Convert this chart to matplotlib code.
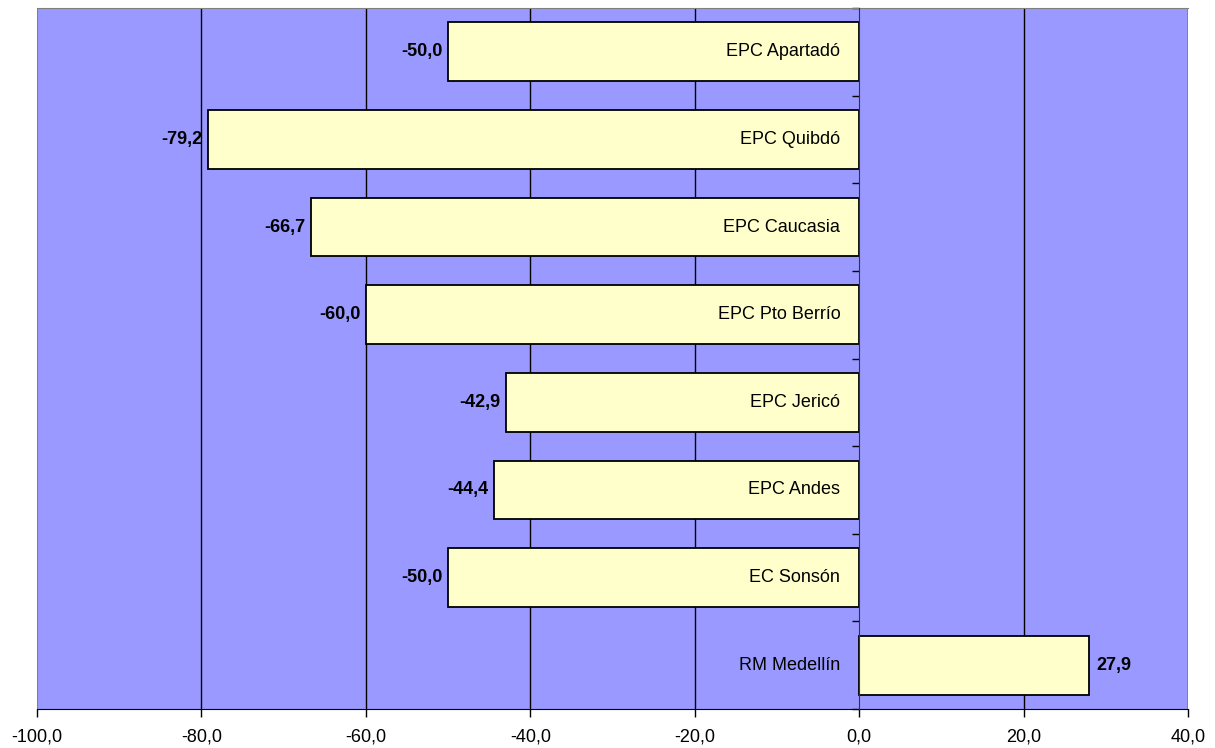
import numpy as np
import matplotlib.pyplot as plt

plt.rcParams['font.family'] = ['Liberation Sans', 'DejaVu Sans']

categories = ["EPC Apartadó", "EPC Quibdó", "EPC Caucasia", "EPC Pto Berrío",
              "EPC Jericó", "EPC Andes", "EC Sonsón", "RM Medellín"]
values = [-50.0, -79.2, -66.7, -60.0, -42.9, -44.4, -50.0, 27.9]
x_ticks = [-100, -80, -60, -40, -20, 0, 20, 40]


def fmt(v):
    return f"{v:.1f}".replace(".", ",")


fig = plt.figure(figsize=(12.15, 7.48), dpi=100)
ax = fig.add_axes([0.0305, 0.0521, 0.9473, 0.9372])
ax.set_facecolor("#9999FF")

y = np.arange(len(categories))
ax.barh(y, values, height=0.67, color="#FFFFCC", edgecolor="black", linewidth=1.3, zorder=3)

FS = 13
for yi, v, name in zip(y, values, categories):
    if v < 0:
        ax.text(v - 0.7, yi, fmt(v), ha="right", va="center", fontsize=FS,
                fontweight="bold", zorder=4)
    else:
        ax.text(v + 1.0, yi, fmt(v), ha="left", va="center", fontsize=FS,
                fontweight="bold", zorder=4)
    ax.text(-2.3, yi, name, ha="right", va="center", fontsize=FS, zorder=4)

ax.set_xlim(-100, 40)
ax.set_ylim(len(categories) - 0.5, -0.5)
ax.set_xticks(x_ticks)
ax.set_xticklabels([fmt(t) for t in x_ticks], fontsize=FS)
ax.tick_params(axis="x", direction="out", length=6, width=1, pad=8)

# category axis sits at zero, ticks on category boundaries
ax.set_yticks(np.arange(-0.5, len(categories), 1.0))
ax.set_yticklabels([])
ax.tick_params(axis="y", direction="out", length=5, width=1)
ax.spines["left"].set_position(("data", 0))
ax.spines["left"].set_color("#333333")
ax.spines["left"].set_zorder(5)

for t in x_ticks:
    if t not in (-100, 0):
        ax.axvline(t, color="black", linewidth=1, zorder=1)
ax.axvline(-100, color="#808080", linewidth=1.5, zorder=1)
ax.spines["top"].set_color("#808080")
ax.spines["right"].set_visible(False)
ax.spines["bottom"].set_color("black")

plt.savefig("out.png", dpi=100)
